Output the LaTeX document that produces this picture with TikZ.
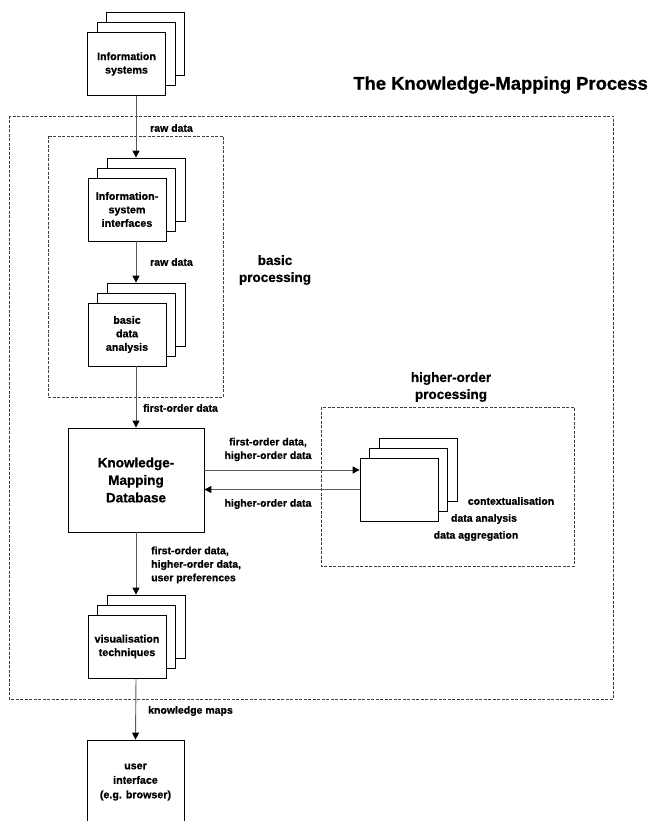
\documentclass[tikz,border=0pt]{standalone}
\usepackage{fontspec}
\setmainfont{Liberation Sans}[BoldFeatures={FakeBold=0.8}]
\usetikzlibrary{arrows.meta}
\tikzset{
  doc/.style={draw=black,fill=white,line width=0.8pt,minimum width=78pt,minimum height=63pt,inner sep=0pt,align=center,font=\fontsize{10.7}{13.5}\selectfont\bfseries},
  db/.style={draw=black,fill=white,line width=0.8pt,minimum width=136pt,minimum height=104pt,inner sep=0pt,align=center,font=\fontsize{13.5}{17.5}\selectfont\bfseries},
  uibox/.style={draw=black,fill=white,line width=0.8pt,minimum width=97pt,minimum height=84pt,inner sep=0pt,align=center,font=\fontsize{10.7}{14.5}\selectfont\bfseries},
  flow/.style={draw=black!65,line width=0.9pt,-{Triangle[length=7pt,width=7pt,color=black]}},
  grp/.style={draw=black!75,line width=0.8pt,dash pattern=on 3pt off 1.5pt},
  lbl/.style={inner sep=0pt,align=left,font=\fontsize{10.5}{13.5}\selectfont\bfseries},
  big/.style={inner sep=0pt,align=center,font=\fontsize{13.5}{17}\selectfont\bfseries},
  ttl/.style={inner sep=0pt,font=\fontsize{18.4}{22}\selectfont\bfseries}
}
\newcommand{\docstack}[3]{%
  \node[doc,xshift=19pt,yshift=20pt] (#1c) at (#2) {};
  \node[doc,xshift=9.5pt,yshift=10pt] (#1b) at (#2) {};
  \node[doc] (#1) at (#2) {#3};}

\begin{document}
\begin{tikzpicture}[x=1pt,y=-1pt]
\useasboundingbox (0,0) rectangle (654,821);
\draw[grp] (9,116) rectangle (613,699);
\draw[grp] (48,136) rectangle (223,397);
\draw[grp] (321,407) rectangle (574,566);
\node[ttl,anchor=east] (title) at (648,85) {The Knowledge-Mapping Process};
\node[big] (bp) at (275,270) {basic\\processing};
\node[big] (hp) at (451,387) {higher-order\\processing};

\docstack{sys}{126.5,64}{Information\\systems}
\docstack{ifc}{127,209.5}{Information-\\system\\interfaces}
\docstack{ana}{127,334.5}{basic\\data\\analysis}
\docstack{hos}{399,489.5}{}
\docstack{vis}{127,646.5}{visualisation\\techniques}
\node[db] (kmd) at (136,480) {Knowledge-\\Mapping\\Database};
\node[uibox] (ui) at (135.5,782) {user\\interface\\(e.g. browser)};

\draw[flow] (sys.south -| kmd) -- (ifcc.north -| kmd); \node[lbl,anchor=west] (raw1) at (150,128) {raw data};
\draw[flow] (ifc.south -| kmd) -- (anac.north -| kmd); \node[lbl,anchor=west] (raw2) at (150,262) {raw data};
\draw[flow] (ana.south -| kmd) -- (kmd.north); \node[lbl,anchor=west] (fo) at (143,408) {first-order data};
\draw[flow] ([yshift=10pt]kmd.east) -- ([yshift=10pt]kmd.east -| hos.west); \node[lbl,align=center] (fohi) at (268,449.5) {first-order data,\\higher-order data};
\draw[flow] (hos.west) -- (hos.west -| kmd.east); \node[lbl] (ho) at (268,504) {higher-order data};
\draw[flow] (kmd.south) -- (visc.north -| kmd); \node[lbl,anchor=west] (fhu) at (151,565) {first-order data,\\higher-order data,\\user preferences};
\draw[flow] (vis.south -| kmd) -- (ui.north); \node[lbl,anchor=west] (km) at (148,711) {knowledge maps};

\node[lbl] (ctx) at (511,501) {contextualisation};
\node[lbl] (dan) at (484,519) {data analysis};
\node[lbl] (dag) at (476,536) {data aggregation};
\end{tikzpicture}
\end{document}
